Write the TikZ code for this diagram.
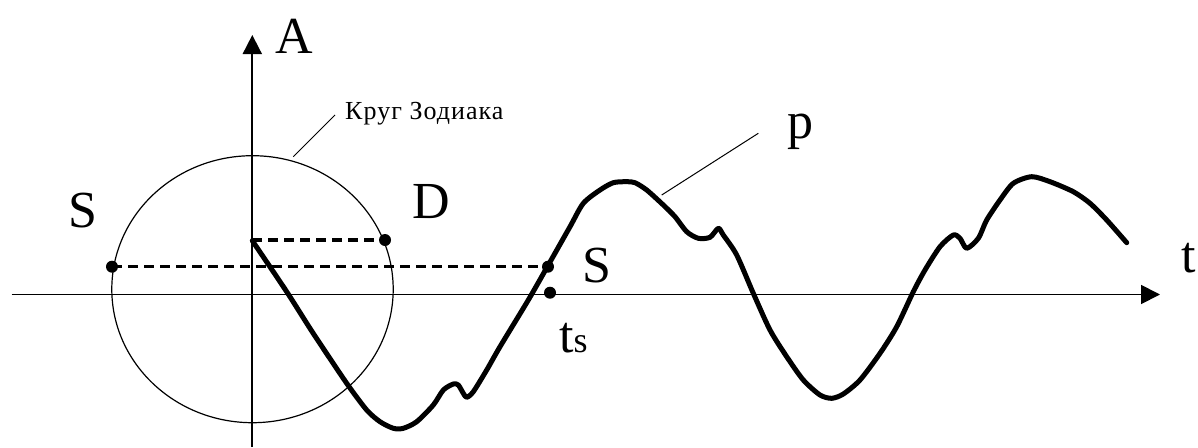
\documentclass[tikz,border=0pt]{standalone}
\usepackage{fontspec}
\setmainfont{Liberation Serif}
\newfontfamily\zodfont[LetterSpace=4]{Liberation Serif}
\usetikzlibrary{arrows.meta}
\begin{document}
\begin{tikzpicture}[x=1pt,y=-1pt,
  axis/.style={line width=1.8pt,-{Triangle[length=19pt,width=19pt]}},
  orbit/.style={line width=1.2pt},
  proj/.style={line width=3.4pt,dash pattern=on 10pt off 6pt},
  wave/.style={line width=5pt,line join=round,line cap=round},
  leader/.style={line width=1pt},
  dot/.style={circle,fill=black,inner sep=0pt,minimum size=12pt},
  biglabel/.style={inner sep=0pt,anchor=base,font=\fontsize{52pt}{52pt}\selectfont},
  smalllabel/.style={inner sep=0pt,anchor=base west,font=\zodfont\fontsize{26pt}{26pt}\selectfont}]
\useasboundingbox (0,0) rectangle (1198,447);
% axes
\coordinate (xstart) at (11.7,294.5);
\coordinate (xend) at (1160,294.5);
\coordinate (ystart) at (252.3,447);
\coordinate (yend) at (252.3,35);
\draw[axis] (xstart) -- (xend);
\draw[axis] (ystart) -- (yend);
% zodiac circle
\coordinate (C) at (252.5,289.2);
\draw[orbit] (C) ellipse [x radius=140.7,y radius=133.5];
% points
\coordinate (P0) at (252.3,240);
\node[dot] (Sl) at (112,266.7) {};
\node[dot] (Dd) at (385,240) {};
\node[dot] (Sr) at (548,266.7) {};
\node[dot] (ts) at (550,292.7) {};
% dashed projections
\draw[proj] (P0) -- (Dd.center);
\draw[proj] (Sl.center) -- (Sr.center);
% wave
\draw[wave] plot[smooth,tension=0.45] coordinates {
(252.3,240.7) (286.7,291.7) (313,333) (346.7,383.3) (366.7,410) (380,421.7)
(393.3,428.3) (403.3,428.3) (416.7,421.7) (433.3,405) (443.3,390) (453.3,384)
(458.3,385) (463.3,393.3) (466.7,397.3) (473.3,391.7) (486.7,370) (500,346.7)
(528.3,300) (548.3,265) (570,226.7) (583.3,203.3) (600,190) (613.3,182.7)
(626.7,181.7) (635,182.7) (646.7,190) (663.3,205) (675,216.7) (686.7,231.7)
(698.3,238.3) (710,237.3) (718.3,228.3) (723.3,235) (736.7,255) (753.3,293.3)
(770,330) (786.7,356.7) (803.3,380) (820,395) (831.7,398.3) (843.3,394)
(860,380) (880,353.3) (896.7,326.7) (913.3,291.7) (925,270) (940,246.7)
(953.3,235) (960,238.3) (966.7,248.3) (978.3,238.3) (986.7,220) (1000,200)
(1013.3,183.3) (1031.7,176.7) (1050,181.7) (1073.3,191.7) (1090,203.3)
(1106.7,220) (1126.7,242.7)};
% labels
\node[biglabel] (lA) at (294,53) {A};
\node[biglabel] (lSl) at (82.5,227.5) {S};
\node[biglabel] (lD) at (431.5,218) {D};
\node[biglabel] (lSr) at (596.5,282) {S};
\node[biglabel] (lts) at (573.5,352) {t{\fontsize{36pt}{36pt}\selectfont s}};
\node[biglabel] (lp) at (800.5,138) {p};
\node[biglabel] (lt) at (1188.5,272) {t};
\node[smalllabel] (lzod) at (345,119.3) {Круг Зодиака};
% leaders
\coordinate (zodA) at (293.3,156.7);
\coordinate (zodB) at (335,115);
\draw[leader] (zodA) -- (zodB);
\coordinate (pA) at (661.7,195);
\coordinate (pB) at (758.3,133.3);
\draw[leader] (pA) -- (pB);
\end{tikzpicture}
\end{document}
